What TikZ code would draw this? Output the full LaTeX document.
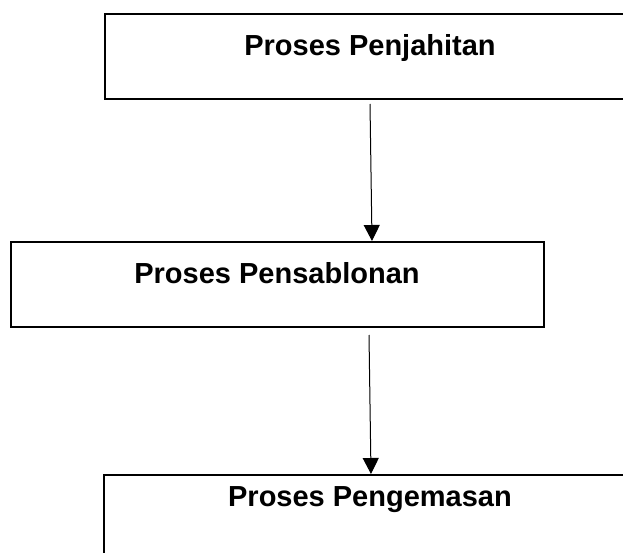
\documentclass[tikz,border=0pt]{standalone}
\usepackage{fontspec}
\setmainfont{Liberation Sans}
\usetikzlibrary{arrows.meta,calc}
\begin{document}
\begin{tikzpicture}[x=1pt,y=-1pt,
  box/.style={draw=black,line width=2.2pt,rectangle,inner sep=0pt,anchor=north west},
  lbl/.style={inner sep=0pt,font=\fontsize{29}{35}\selectfont\bfseries},
  flow/.style={line width=1pt,-{Triangle[length=16pt,width=16pt]}}]
\useasboundingbox (0,0) rectangle (623,553);
\clip (0,0) rectangle (623,553);
\node[box,minimum width=540pt,minimum height=85pt] (b1) at (104,13) {};
\node[box,minimum width=533pt,minimum height=85pt] (b2) at (10,241) {};
\node[box,minimum width=540pt,minimum height=100pt] (b3) at (103,474) {};
\node[lbl] (t1) at (370,48) {Proses Penjahitan};
\node[lbl] (t2) at (277,273) {Proses Pensablonan};
\node[lbl] (t3) at (370,500) {Proses Pengemasan};
\coordinate (a1s) at (370,104);
\coordinate (a1e) at (372,241);
\coordinate (a2s) at (369,335);
\coordinate (a2e) at (371,474);
\draw[flow] (a1s) -- (a1e);
\draw[flow] (a2s) -- (a2e);
\end{tikzpicture}
\end{document}
